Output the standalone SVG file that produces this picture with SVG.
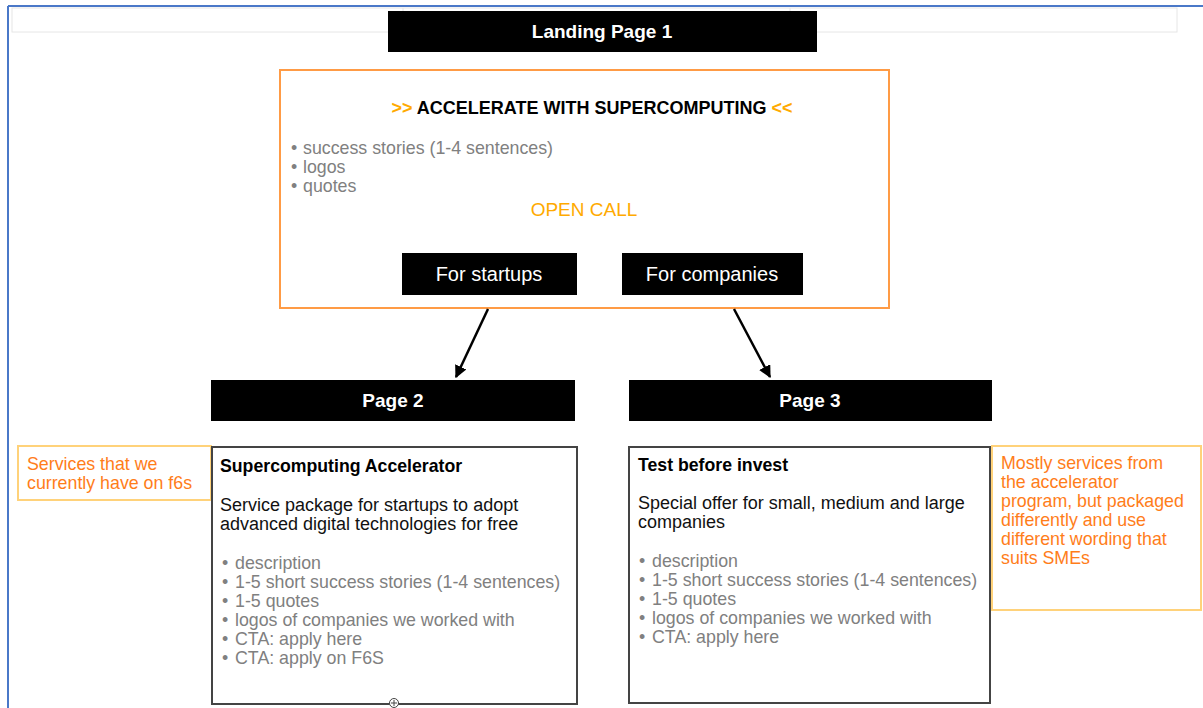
<svg xmlns="http://www.w3.org/2000/svg" width="1203" height="708" viewBox="0 0 1203 708">
<style>
text{font-family:"Liberation Sans",Arial,Helvetica,sans-serif}
.hdr{fill:#000}
.ht{fill:#fff;font-size:19px;font-weight:bold;text-anchor:middle}
.bt{fill:#fff;font-size:20px;text-anchor:middle}
.gray{fill:#808080;font-size:17.8px}
.dark{fill:#111;font-size:18px}
.bold{fill:#000;font-size:17.7px;font-weight:bold}
.note{fill:#ff7d1a;font-size:17.8px}
.notebox{fill:#fff;stroke:#ffd27a;stroke-width:2}
.page{fill:#fff;stroke:#444;stroke-width:2}
.conn{stroke:#000;stroke-width:2.5;fill:none}
</style>
<defs>
<marker id="ah" viewBox="0 0 10 10" refX="9" refY="5" markerWidth="5" markerHeight="5" orient="auto" markerUnits="strokeWidth">
<path d="M0,0 L10,5 L0,10 z" fill="#000"/>
</marker>
</defs>
<rect width="1203" height="708" fill="#fff"/>
<g id="frame">
<rect x="12" y="8" width="1165" height="24" fill="none" stroke="#e6e6e6" stroke-width="1"/>
<line x1="403" y1="8" x2="403" y2="32" stroke="#e6e6e6"/>
<line x1="790" y1="8" x2="790" y2="32" stroke="#e6e6e6"/>
<line x1="8" y1="6" x2="1203" y2="6" stroke="#4a78c8" stroke-width="2"/>
<line x1="8" y1="6" x2="8" y2="708" stroke="#4a78c8" stroke-width="2"/>
</g>
<g id="landing">
<rect class="hdr" x="388" y="11" width="429" height="41"/>
<text class="ht" x="602" y="38" font-size="18">Landing Page 1</text>
</g>
<g id="landing-content">
<rect x="280" y="70" width="609" height="238" fill="#fff" stroke="#ff9b45" stroke-width="2"/>
<text x="592" y="114" font-size="18" font-weight="bold" text-anchor="middle"><tspan fill="#ffaa00">&gt;&gt; </tspan><tspan fill="#000">ACCELERATE WITH SUPERCOMPUTING</tspan><tspan fill="#ffaa00"> &lt;&lt;</tspan></text>
<g class="gray">
<text x="291" y="154">•</text><text x="303" y="154">success stories (1-4 sentences)</text>
<text x="291" y="173">•</text><text x="303" y="173">logos</text>
<text x="291" y="192">•</text><text x="303" y="192">quotes</text>
</g>
<text x="584" y="216" font-size="19" fill="#ffaa00" text-anchor="middle">OPEN CALL</text>
</g>
<g id="startups">
<rect class="hdr" x="402" y="253" width="175" height="42"/>
<text class="bt" x="489" y="281">For startups</text>
</g>
<g id="companies">
<rect class="hdr" x="622" y="253" width="181" height="42"/>
<text class="bt" x="712" y="281">For companies</text>
</g>
<g id="connectors">
<line class="conn" x1="488" y1="309" x2="456" y2="377" marker-end="url(#ah)"/>
<line class="conn" x1="734" y1="309" x2="770" y2="377" marker-end="url(#ah)"/>
</g>
<g id="page2">
<rect class="hdr" x="211" y="380" width="364" height="41"/>
<text class="ht" x="393" y="407">Page 2</text>
</g>
<g id="page3">
<rect class="hdr" x="629" y="380" width="363" height="41"/>
<text class="ht" x="810" y="407">Page 3</text>
</g>
<g id="note-left">
<rect class="notebox" x="18" y="446" width="193" height="54"/>
<text class="note" x="27" y="470">Services that we</text>
<text class="note" x="27" y="489">currently have on f6s</text>
</g>
<g id="page2-content">
<rect class="page" x="212" y="447" width="365" height="257"/>
<text class="bold" x="220" y="472">Supercomputing Accelerator</text>
<text class="dark" x="220" y="511">Service package for startups to adopt</text>
<text class="dark" x="220" y="530">advanced digital technologies for free</text>
<g class="gray">
<text x="222" y="569">•</text><text x="235" y="569">description</text>
<text x="222" y="588">•</text><text x="235" y="588">1-5 short success stories (1-4 sentences)</text>
<text x="222" y="607">•</text><text x="235" y="607">1-5 quotes</text>
<text x="222" y="626">•</text><text x="235" y="626">logos of companies we worked with</text>
<text x="222" y="645">•</text><text x="235" y="645">CTA: apply here</text>
<text x="222" y="664">•</text><text x="235" y="664">CTA: apply on F6S</text>
</g>
<circle cx="394" cy="703" r="4.5" fill="#fff" stroke="#444" stroke-width="1"/>
<line x1="394" y1="700" x2="394" y2="706" stroke="#444" stroke-width="1"/>
<line x1="391" y1="703" x2="397" y2="703" stroke="#444" stroke-width="1"/>
</g>
<g id="page3-content">
<rect class="page" x="629" y="447" width="361" height="256"/>
<text class="bold" x="638" y="471">Test before invest</text>
<text class="dark" x="638" y="509">Special offer for small, medium and large</text>
<text class="dark" x="638" y="528">companies</text>
<g class="gray">
<text x="639" y="567">•</text><text x="652" y="567">description</text>
<text x="639" y="586">•</text><text x="652" y="586">1-5 short success stories (1-4 sentences)</text>
<text x="639" y="605">•</text><text x="652" y="605">1-5 quotes</text>
<text x="639" y="624">•</text><text x="652" y="624">logos of companies we worked with</text>
<text x="639" y="643">•</text><text x="652" y="643">CTA: apply here</text>
</g>
</g>
<g id="note-right">
<rect class="notebox" x="992" y="446" width="209" height="164"/>
<text class="note" x="1001" y="469">Mostly services from</text>
<text class="note" x="1001" y="488">the accelerator</text>
<text class="note" x="1001" y="507">program, but packaged</text>
<text class="note" x="1001" y="526">differently and use</text>
<text class="note" x="1001" y="545">different wording that</text>
<text class="note" x="1001" y="564">suits SMEs</text>
</g>
</svg>
